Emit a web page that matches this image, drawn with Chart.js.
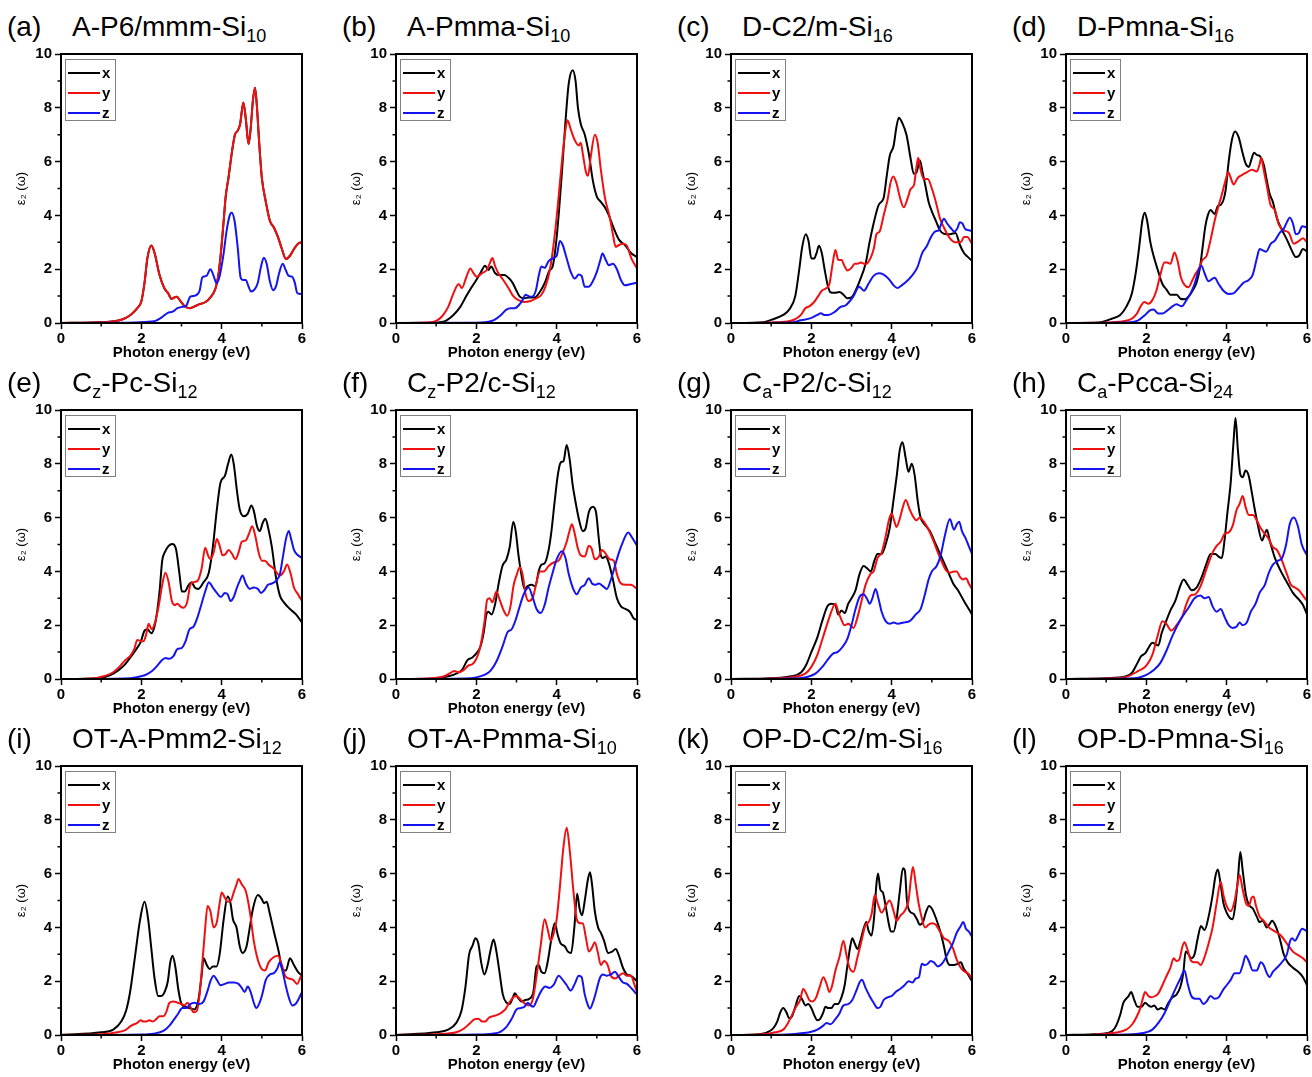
<!DOCTYPE html>
<html>
<head>
<meta charset="utf-8">
<script src="https://cdn.jsdelivr.net/npm/chart.js@4.4.1/dist/chart.umd.min.js"></script>
<style>
  html, body { margin: 0; padding: 0; background: #fff; }
  #fig { position: relative; width: 1312px; height: 1077px; overflow: hidden; background: #fff;
         font-family: "Liberation Sans", Arial, sans-serif; }
  #fig canvas { position: absolute; }
  .tag, .name { position: absolute; font-size: 28px; line-height: 28px; color: #000; white-space: nowrap; }
  .name sub { font-size: 18px; vertical-align: -6px; line-height: 0; }
</style>
</head>
<body>
<div id="fig"></div>
<script>
// Imaginary part of the dielectric function, eps2(omega), for twelve Si structures.
// Each series is a list of [photon energy (eV), eps2] points.

const a_x = null; // x coincides with y for the hexagonal cell
const a_y = [[0,0],[0.8,0.02],[1.2,0.05],[1.5,0.12],[1.73,0.3],[1.9,0.55],[2.0,0.8],[2.08,1.5],[2.15,2.4],[2.25,2.88],[2.33,2.6],[2.45,1.8],[2.57,1.3],[2.67,1.1],[2.75,0.9],[2.88,0.98],[2.98,0.8],[3.08,0.62],[3.2,0.55],[3.3,0.6],[3.45,0.7],[3.6,0.78],[3.72,0.95],[3.85,1.3],[3.92,1.8],[3.98,2.6],[4.05,3.8],[4.1,4.7],[4.17,5.4],[4.25,6.3],[4.33,7.0],[4.4,7.15],[4.46,7.4],[4.54,8.2],[4.6,7.6],[4.67,6.65],[4.72,7.2],[4.78,8.3],[4.83,8.75],[4.88,8.0],[4.93,6.8],[5.0,5.4],[5.1,4.5],[5.2,3.8],[5.3,3.55],[5.4,3.2],[5.5,2.75],[5.6,2.38],[5.7,2.5],[5.8,2.75],[5.9,2.95],[6.0,3.0]];
const a_z = [[0,0],[1.5,0.01],[2.1,0.04],[2.35,0.08],[2.5,0.2],[2.65,0.37],[2.78,0.42],[2.9,0.55],[3.02,0.6],[3.12,0.65],[3.22,0.98],[3.35,1.02],[3.45,1.2],[3.52,1.7],[3.62,1.75],[3.72,2.0],[3.8,1.75],[3.87,1.48],[3.95,1.75],[4.05,2.6],[4.12,3.4],[4.2,4.0],[4.25,4.1],[4.32,3.8],[4.4,2.8],[4.47,1.7],[4.53,1.6],[4.6,1.6],[4.67,1.35],[4.73,1.17],[4.82,1.25],[4.9,1.5],[4.98,2.1],[5.05,2.43],[5.12,2.2],[5.2,1.55],[5.28,1.22],[5.35,1.35],[5.43,1.85],[5.52,2.2],[5.6,1.95],[5.67,1.75],[5.75,1.72],[5.82,1.5],[5.88,1.12],[5.95,1.08],[6.0,1.1]];

const b_x = [[0,0],[0.8,0.01],[1.2,0.06],[1.43,0.3],[1.6,0.6],[1.75,1.0],[1.87,1.3],[2.0,1.6],[2.1,1.85],[2.22,2.13],[2.3,1.97],[2.37,2.1],[2.47,1.85],[2.58,1.78],[2.7,1.78],[2.8,1.68],[2.9,1.5],[3.0,1.2],[3.08,0.98],[3.2,0.92],[3.3,0.95],[3.45,0.95],[3.6,1.2],[3.72,1.55],[3.82,1.95],[3.9,2.1],[3.98,2.9],[4.06,4.2],[4.14,5.8],[4.22,7.5],[4.3,8.9],[4.4,9.4],[4.47,9.0],[4.53,8.0],[4.6,7.4],[4.7,7.0],[4.8,6.3],[4.9,5.3],[5.0,4.7],[5.1,4.5],[5.2,4.3],[5.3,4.0],[5.4,3.6],[5.55,3.1],[5.7,2.9],[5.85,2.6],[6.0,2.45]];
const b_y = [[0,0],[0.8,0.02],[1.0,0.08],[1.15,0.25],[1.3,0.6],[1.43,1.1],[1.56,1.45],[1.64,1.3],[1.75,1.7],[1.85,2.03],[1.93,1.85],[2.01,1.72],[2.14,1.85],[2.26,1.97],[2.33,2.2],[2.4,2.42],[2.47,2.1],[2.55,1.85],[2.67,1.6],[2.8,1.3],[2.92,1.0],[3.05,0.85],[3.2,0.78],[3.35,0.82],[3.5,0.92],[3.62,1.05],[3.72,1.35],[3.83,1.97],[3.93,3.0],[4.0,3.94],[4.08,5.2],[4.15,6.3],[4.22,7.2],[4.27,7.54],[4.35,7.2],[4.45,6.8],[4.55,6.6],[4.6,6.7],[4.66,6.2],[4.73,5.6],[4.78,5.47],[4.85,6.2],[4.95,7.0],[5.02,6.7],[5.1,5.7],[5.2,4.67],[5.32,3.94],[5.4,3.3],[5.47,2.83],[5.55,2.9],[5.65,2.95],[5.74,2.89],[5.86,2.4],[6.0,2.03]];
const b_z = [[0,0],[1.8,0.01],[2.3,0.05],[2.45,0.12],[2.6,0.28],[2.75,0.5],[2.85,0.55],[2.96,0.55],[3.08,0.7],[3.15,0.85],[3.22,1.05],[3.3,1.0],[3.38,0.98],[3.48,1.2],[3.56,1.8],[3.62,2.1],[3.7,2.05],[3.8,2.3],[3.9,2.4],[4.0,2.5],[4.08,3.05],[4.15,2.9],[4.25,2.4],[4.35,1.9],[4.45,1.65],[4.55,1.8],[4.62,1.75],[4.7,1.35],[4.8,1.35],[4.9,1.55],[5.0,1.9],[5.08,2.3],[5.14,2.58],[5.22,2.35],[5.3,2.15],[5.4,2.2],[5.5,2.0],[5.6,1.6],[5.7,1.4],[5.85,1.45],[6.0,1.5]];

const c_x = [[0,0],[0.8,0.03],[1.08,0.16],[1.3,0.3],[1.45,0.5],[1.6,1.0],[1.7,2.0],[1.77,2.8],[1.86,3.3],[1.93,3.05],[2.0,2.4],[2.07,2.4],[2.13,2.6],[2.19,2.87],[2.26,2.6],[2.33,2.0],[2.4,1.45],[2.47,1.15],[2.57,1.12],[2.7,1.15],[2.8,1.05],[2.9,0.92],[3.0,0.95],[3.1,1.2],[3.2,1.55],[3.35,2.2],[3.45,3.0],[3.55,3.7],[3.68,4.4],[3.8,4.65],[3.88,5.5],[3.95,6.2],[4.05,6.6],[4.12,7.3],[4.18,7.63],[4.26,7.45],[4.37,6.99],[4.47,6.13],[4.55,5.55],[4.62,5.6],[4.7,6.05],[4.77,5.6],[4.84,5.1],[4.92,4.5],[5.0,4.15],[5.1,3.8],[5.2,3.45],[5.3,3.32],[5.45,3.3],[5.59,3.35],[5.7,2.9],[5.8,2.6],[5.9,2.45],[6.0,2.31]];
const c_y = [[0,0],[1.0,0.02],[1.4,0.06],[1.57,0.12],[1.74,0.3],[1.85,0.55],[1.95,0.62],[2.07,0.78],[2.17,1.0],[2.26,1.2],[2.38,1.3],[2.45,1.45],[2.53,2.2],[2.6,2.71],[2.67,2.35],[2.75,2.34],[2.83,2.1],[2.9,1.95],[3.0,2.05],[3.08,2.2],[3.15,2.2],[3.23,2.25],[3.35,2.18],[3.47,2.4],[3.56,2.8],[3.62,3.3],[3.7,3.4],[3.8,4.0],[3.9,4.6],[3.97,5.2],[4.04,5.45],[4.12,5.2],[4.2,4.7],[4.3,4.3],[4.4,4.65],[4.47,4.97],[4.56,5.15],[4.6,5.6],[4.66,6.14],[4.72,5.7],[4.8,5.35],[4.9,5.35],[5.0,5.0],[5.1,4.5],[5.2,3.9],[5.3,3.55],[5.45,3.15],[5.6,3.0],[5.72,3.0],[5.8,3.2],[5.88,3.2],[6.0,2.95]];
const c_z = [[0,0],[1.5,0.02],[1.74,0.1],[1.99,0.18],[2.15,0.3],[2.24,0.36],[2.32,0.3],[2.42,0.3],[2.57,0.4],[2.73,0.6],[2.85,0.65],[2.95,0.8],[3.05,1.0],[3.19,1.35],[3.31,1.2],[3.42,1.45],[3.55,1.75],[3.68,1.85],[3.8,1.8],[3.92,1.65],[4.05,1.4],[4.14,1.3],[4.25,1.4],[4.39,1.57],[4.5,1.75],[4.64,2.07],[4.76,2.6],[4.88,2.87],[4.98,3.2],[5.08,3.4],[5.17,3.45],[5.25,3.75],[5.3,3.88],[5.38,3.7],[5.46,3.55],[5.56,3.4],[5.63,3.5],[5.7,3.75],[5.76,3.7],[5.84,3.48],[5.92,3.45],[6.0,3.42]];

const d_x = [[0,0],[0.8,0.02],[1.14,0.16],[1.35,0.3],[1.5,0.6],[1.64,1.1],[1.74,1.9],[1.82,2.8],[1.9,3.8],[1.96,4.1],[2.02,3.8],[2.1,3.0],[2.18,2.5],[2.3,1.9],[2.4,1.45],[2.5,1.25],[2.6,1.05],[2.7,1.05],[2.76,1.05],[2.85,0.9],[2.95,0.88],[3.05,0.98],[3.15,1.2],[3.25,1.5],[3.33,2.0],[3.4,2.8],[3.47,3.6],[3.53,4.0],[3.6,4.2],[3.7,4.05],[3.78,4.35],[3.86,4.4],[3.97,4.9],[4.05,6.0],[4.13,6.8],[4.21,7.12],[4.3,6.9],[4.4,6.3],[4.48,5.9],[4.55,5.8],[4.62,6.1],[4.68,6.33],[4.75,6.25],[4.83,6.2],[4.92,5.9],[5.0,5.3],[5.07,4.8],[5.15,4.5],[5.25,3.9],[5.38,3.45],[5.5,3.1],[5.62,2.7],[5.72,2.45],[5.8,2.5],[5.9,2.75],[6.0,2.65]];
const d_y = [[0,0],[1.0,0.02],[1.55,0.1],[1.76,0.34],[1.87,0.65],[1.95,0.78],[2.05,0.72],[2.15,0.85],[2.25,1.2],[2.35,1.8],[2.45,2.25],[2.52,2.25],[2.6,2.2],[2.7,2.62],[2.78,2.3],[2.86,1.7],[2.95,1.42],[3.05,1.33],[3.15,1.6],[3.22,1.82],[3.3,2.0],[3.4,2.35],[3.5,2.5],[3.6,3.1],[3.72,3.92],[3.88,4.78],[3.97,5.3],[4.04,5.6],[4.1,5.4],[4.17,5.15],[4.28,5.4],[4.38,5.5],[4.5,5.6],[4.63,5.7],[4.75,5.63],[4.82,5.9],[4.86,6.14],[4.92,5.7],[5.0,5.1],[5.09,4.4],[5.2,4.2],[5.3,3.66],[5.42,3.45],[5.55,3.35],[5.67,2.95],[5.8,3.05],[5.9,3.15],[6.0,3.0]];
const d_z = [[0,0],[1.5,0.02],[1.8,0.1],[1.97,0.3],[2.1,0.48],[2.18,0.5],[2.3,0.35],[2.4,0.35],[2.51,0.45],[2.65,0.62],[2.75,0.7],[2.88,0.62],[3.0,0.85],[3.1,1.1],[3.2,1.45],[3.3,1.95],[3.37,2.13],[3.45,1.85],[3.55,1.55],[3.65,1.65],[3.7,1.68],[3.8,1.45],[3.92,1.2],[4.05,1.08],[4.17,1.1],[4.3,1.3],[4.42,1.5],[4.55,1.6],[4.65,1.8],[4.75,2.4],[4.82,2.75],[4.9,2.7],[4.98,2.65],[5.1,2.95],[5.2,3.06],[5.32,3.35],[5.42,3.5],[5.5,3.75],[5.57,3.92],[5.65,3.7],[5.72,3.3],[5.8,3.35],[5.88,3.6],[6.0,3.55]];

const e_x = [[0,0],[0.9,0.03],[1.23,0.15],[1.45,0.35],[1.6,0.55],[1.75,0.85],[1.87,1.1],[1.98,1.36],[2.08,1.8],[2.15,1.85],[2.25,1.7],[2.35,2.1],[2.45,3.2],[2.52,4.4],[2.58,4.7],[2.68,4.95],[2.77,5.02],[2.86,4.85],[2.95,3.9],[3.01,3.25],[3.08,3.25],[3.18,3.5],[3.25,3.6],[3.33,3.4],[3.42,3.35],[3.55,3.6],[3.68,3.95],[3.78,4.9],[3.88,6.3],[3.97,7.3],[4.08,7.55],[4.16,8.0],[4.24,8.35],[4.3,8.0],[4.38,7.0],[4.45,6.3],[4.55,6.05],[4.65,6.15],[4.74,6.45],[4.8,6.25],[4.88,5.68],[4.95,5.5],[5.02,5.8],[5.09,5.96],[5.16,5.6],[5.25,4.9],[5.35,3.8],[5.45,3.1],[5.55,2.85],[5.7,2.6],[5.85,2.4],[6.0,2.1]];
const e_y = [[0,0],[0.8,0.02],[1.06,0.1],[1.3,0.25],[1.45,0.45],[1.6,0.7],[1.72,0.85],[1.82,1.1],[1.9,1.45],[1.97,1.42],[2.05,1.4],[2.12,1.65],[2.18,2.05],[2.26,1.85],[2.33,2.05],[2.43,2.7],[2.52,3.5],[2.6,3.95],[2.68,3.6],[2.76,2.9],[2.83,2.75],[2.9,2.8],[2.97,2.7],[3.05,2.65],[3.14,2.85],[3.22,3.5],[3.3,3.6],[3.4,3.65],[3.5,4.1],[3.59,4.88],[3.66,4.6],[3.72,4.45],[3.8,4.7],[3.88,5.2],[3.95,4.95],[4.02,4.6],[4.1,4.65],[4.17,4.8],[4.26,4.65],[4.34,4.45],[4.42,4.7],[4.5,5.1],[4.6,5.15],[4.68,5.4],[4.76,5.68],[4.84,5.3],[4.92,4.7],[5.0,4.4],[5.08,4.4],[5.17,4.25],[5.3,4.1],[5.45,3.85],[5.55,4.0],[5.63,4.26],[5.72,3.9],[5.8,3.4],[5.9,3.15],[6.0,2.9]];
const e_z = [[0,0],[1.6,0.02],[1.89,0.07],[2.1,0.15],[2.25,0.28],[2.4,0.5],[2.5,0.68],[2.6,0.78],[2.7,0.75],[2.8,0.85],[2.9,1.12],[3.0,1.15],[3.1,1.4],[3.2,1.85],[3.3,1.95],[3.4,2.3],[3.5,2.8],[3.6,3.3],[3.68,3.6],[3.78,3.4],[3.88,3.2],[3.98,3.05],[4.08,3.2],[4.15,3.15],[4.22,2.9],[4.3,3.05],[4.38,3.4],[4.45,3.65],[4.52,3.85],[4.6,3.55],[4.7,3.35],[4.8,3.4],[4.9,3.35],[4.98,3.2],[5.06,3.3],[5.15,3.5],[5.25,3.55],[5.35,3.65],[5.45,3.9],[5.52,4.5],[5.6,5.2],[5.67,5.5],[5.73,5.2],[5.8,4.8],[5.9,4.6],[6.0,4.5]];

const f_x = [[0,0],[0.9,0.02],[1.3,0.1],[1.5,0.2],[1.65,0.35],[1.78,0.7],[1.9,0.8],[2.0,0.95],[2.1,1.2],[2.18,1.7],[2.25,2.4],[2.3,2.5],[2.38,2.4],[2.47,2.8],[2.55,3.5],[2.65,4.2],[2.75,4.45],[2.83,4.9],[2.92,5.85],[2.98,5.5],[3.05,4.6],[3.12,3.9],[3.2,3.35],[3.28,3.45],[3.38,3.5],[3.47,3.45],[3.55,4.0],[3.62,4.25],[3.7,4.3],[3.8,4.8],[3.87,5.5],[3.95,6.6],[4.03,7.6],[4.1,8.05],[4.17,8.1],[4.25,8.7],[4.32,8.2],[4.4,7.2],[4.48,6.5],[4.56,5.9],[4.65,5.5],[4.72,5.6],[4.8,6.2],[4.9,6.4],[4.98,6.2],[5.05,5.2],[5.1,4.6],[5.15,4.5],[5.22,4.55],[5.3,4.3],[5.4,3.7],[5.5,3.0],[5.6,2.7],[5.72,2.6],[5.82,2.5],[5.92,2.25],[6.0,2.2]];
const f_y = [[0,0],[0.8,0.02],[1.2,0.1],[1.38,0.25],[1.45,0.3],[1.55,0.25],[1.7,0.35],[1.8,0.5],[1.9,0.55],[2.0,0.75],[2.1,1.2],[2.2,2.1],[2.27,2.95],[2.33,3.0],[2.4,2.85],[2.5,3.25],[2.58,2.95],[2.68,2.55],[2.77,2.35],[2.85,2.7],[2.93,3.5],[3.0,3.85],[3.08,4.15],[3.15,3.9],[3.22,3.2],[3.3,2.9],[3.4,3.0],[3.5,3.6],[3.58,4.0],[3.68,4.0],[3.8,4.2],[3.95,4.35],[4.05,4.4],[4.15,4.7],[4.25,5.1],[4.32,5.5],[4.38,5.75],[4.45,5.4],[4.52,4.9],[4.6,4.6],[4.7,4.55],[4.8,4.95],[4.87,4.85],[4.95,4.45],[5.05,4.55],[5.12,4.8],[5.2,4.7],[5.32,4.45],[5.42,4.4],[5.5,3.9],[5.6,3.55],[5.72,3.5],[5.85,3.5],[6.0,3.35]];
const f_z = [[0,0],[1.7,0.02],[2.0,0.06],[2.2,0.15],[2.35,0.3],[2.5,0.65],[2.65,1.2],[2.78,1.75],[2.88,1.85],[2.98,2.2],[3.08,2.7],[3.18,3.15],[3.3,3.4],[3.4,3.05],[3.5,2.6],[3.6,2.45],[3.7,2.75],[3.8,3.4],[3.9,3.95],[4.0,4.45],[4.13,4.75],[4.22,4.5],[4.3,3.9],[4.4,3.4],[4.5,3.15],[4.6,3.4],[4.7,3.5],[4.8,3.75],[4.88,3.55],[4.97,3.5],[5.05,3.55],[5.15,3.45],[5.25,3.35],[5.35,3.7],[5.45,4.2],[5.55,4.7],[5.65,5.1],[5.78,5.45],[5.88,5.25],[6.0,4.95]];

const g_x = [[0,0],[1.0,0.03],[1.5,0.1],[1.75,0.25],[1.88,0.55],[2.0,1.0],[2.15,1.55],[2.28,2.2],[2.4,2.7],[2.5,2.8],[2.6,2.75],[2.67,2.4],[2.75,2.55],[2.83,2.45],[2.92,2.8],[3.0,3.0],[3.1,3.3],[3.2,3.9],[3.3,4.2],[3.4,4.1],[3.48,4.0],[3.57,4.4],[3.65,4.65],[3.75,4.65],[3.85,5.0],[3.95,5.6],[4.05,6.7],[4.13,7.6],[4.2,8.5],[4.27,8.8],[4.35,8.2],[4.42,7.7],[4.5,8.0],[4.57,7.6],[4.65,6.6],[4.72,6.0],[4.82,5.75],[4.95,5.5],[5.1,5.0],[5.25,4.5],[5.4,4.0],[5.55,3.5],[5.65,3.3],[5.8,2.9],[5.9,2.65],[6.0,2.4]];
const g_y = [[0,0],[1.0,0.02],[1.6,0.08],[1.85,0.2],[2.0,0.45],[2.15,0.9],[2.3,1.6],[2.45,2.3],[2.55,2.7],[2.6,2.8],[2.67,2.5],[2.75,2.2],[2.82,2.0],[2.92,2.05],[3.05,1.9],[3.15,2.3],[3.25,2.9],[3.35,3.5],[3.47,3.9],[3.55,4.0],[3.65,4.5],[3.75,4.7],[3.85,5.3],[3.93,5.9],[4.0,6.15],[4.06,5.9],[4.12,5.65],[4.2,5.95],[4.28,6.4],[4.35,6.65],[4.45,6.3],[4.55,6.0],[4.62,5.9],[4.7,6.0],[4.8,5.85],[4.92,5.55],[5.05,5.1],[5.15,4.7],[5.25,4.35],[5.35,4.05],[5.45,3.95],[5.55,4.0],[5.62,4.0],[5.7,3.8],[5.78,3.7],[5.85,3.75],[5.92,3.55],[6.0,3.35]];
const g_z = [[0,0],[1.5,0.02],[1.8,0.05],[2.1,0.2],[2.3,0.5],[2.45,0.8],[2.55,0.95],[2.65,1.0],[2.78,1.2],[2.9,1.5],[3.0,2.0],[3.1,2.6],[3.2,3.05],[3.3,3.15],[3.38,3.0],[3.45,2.8],[3.52,3.0],[3.6,3.35],[3.67,3.0],[3.75,2.5],[3.85,2.15],[3.95,2.05],[4.05,2.1],[4.15,2.05],[4.3,2.1],[4.45,2.15],[4.6,2.4],[4.72,2.6],[4.82,3.1],[4.92,3.7],[5.0,4.0],[5.12,4.2],[5.22,4.6],[5.32,5.3],[5.45,5.95],[5.55,5.55],[5.62,5.75],[5.68,5.85],[5.75,5.5],[5.85,5.2],[5.93,4.9],[6.0,4.65]];

const h_x = [[0,0],[1.0,0.03],[1.5,0.1],[1.65,0.25],[1.78,0.6],[1.87,0.85],[1.97,0.95],[2.07,1.2],[2.15,1.35],[2.22,1.3],[2.3,1.25],[2.38,1.7],[2.48,2.1],[2.6,2.55],[2.72,2.9],[2.83,3.4],[2.93,3.7],[3.03,3.5],[3.13,3.3],[3.25,3.4],[3.38,3.8],[3.5,4.3],[3.6,4.65],[3.72,4.65],[3.8,4.55],[3.88,4.5],[3.95,5.2],[4.02,6.2],[4.1,7.3],[4.17,8.8],[4.22,9.7],[4.28,8.5],[4.34,7.6],[4.4,7.5],[4.47,7.75],[4.55,7.55],[4.63,6.9],[4.7,6.3],[4.78,5.7],[4.88,5.15],[4.95,5.4],[5.0,5.55],[5.08,5.1],[5.2,4.5],[5.35,4.0],[5.5,3.6],[5.65,3.2],[5.8,2.95],[5.9,2.75],[6.0,2.4]];
const h_y = [[0,0],[1.0,0.02],[1.5,0.08],[1.8,0.3],[2.0,0.5],[2.15,0.9],[2.28,1.6],[2.4,2.15],[2.5,2.05],[2.62,1.8],[2.75,2.0],[2.9,2.35],[3.0,2.8],[3.1,3.1],[3.22,3.15],[3.35,3.45],[3.5,4.1],[3.65,4.7],[3.75,4.95],[3.85,5.1],[3.95,5.4],[4.05,5.45],[4.15,5.7],[4.25,6.3],[4.32,6.5],[4.4,6.8],[4.47,6.4],[4.55,6.1],[4.65,6.1],[4.75,5.9],[4.85,5.6],[4.95,5.4],[5.05,5.2],[5.15,4.9],[5.25,4.8],[5.35,4.5],[5.5,3.9],[5.6,3.5],[5.7,3.4],[5.8,3.3],[5.9,3.1],[6.0,2.9]];
const h_z = [[0,0],[1.5,0.02],[1.8,0.05],[2.0,0.15],[2.2,0.35],[2.35,0.6],[2.5,1.05],[2.65,1.6],[2.85,2.2],[3.05,2.65],[3.2,3.0],[3.35,3.1],[3.45,3.0],[3.55,3.05],[3.65,2.7],[3.75,2.5],[3.85,2.6],[3.95,2.3],[4.05,2.0],[4.15,1.9],[4.25,1.95],[4.32,2.1],[4.4,2.0],[4.5,2.1],[4.6,2.5],[4.72,2.8],[4.82,3.2],[4.95,3.5],[5.05,3.95],[5.15,4.25],[5.28,4.4],[5.38,4.5],[5.48,5.0],[5.57,5.75],[5.67,6.0],[5.77,5.7],[5.87,5.0],[6.0,4.6]];

const i_x = [[0,0],[1.0,0.1],[1.3,0.2],[1.5,0.5],[1.62,0.9],[1.72,1.6],[1.85,3.0],[1.97,4.3],[2.08,4.95],[2.17,4.3],[2.25,3.2],[2.33,2.1],[2.42,1.45],[2.5,1.45],[2.58,1.6],[2.66,2.0],[2.72,2.7],[2.78,2.95],[2.85,2.5],[2.92,1.7],[3.0,1.15],[3.1,1.05],[3.2,1.0],[3.32,0.95],[3.42,1.3],[3.5,2.2],[3.55,2.85],[3.63,2.6],[3.7,2.45],[3.78,2.55],[3.87,2.55],[3.95,3.0],[4.05,4.3],[4.15,5.15],[4.22,4.9],[4.28,4.3],[4.37,4.0],[4.45,3.3],[4.52,3.05],[4.62,3.3],[4.7,4.0],[4.78,4.7],[4.9,5.2],[5.0,5.05],[5.05,4.9],[5.12,4.95],[5.2,4.5],[5.3,3.85],[5.42,3.1],[5.52,2.4],[5.6,2.4],[5.7,2.85],[5.8,2.6],[5.9,2.35],[6.0,2.2]];
const i_y = [[0,0],[1.0,0.03],[1.4,0.1],[1.6,0.18],[1.75,0.35],[1.9,0.45],[1.98,0.55],[2.05,0.5],[2.12,0.5],[2.2,0.55],[2.28,0.5],[2.38,0.6],[2.45,0.7],[2.55,0.7],[2.62,0.85],[2.7,1.2],[2.8,1.25],[2.9,1.2],[3.0,1.15],[3.07,1.1],[3.15,1.2],[3.22,1.05],[3.3,0.85],[3.38,0.9],[3.45,1.5],[3.52,2.7],[3.58,3.8],[3.65,4.8],[3.72,4.6],[3.8,4.0],[3.88,4.2],[3.95,4.9],[4.0,5.3],[4.08,5.1],[4.15,4.95],[4.23,5.0],[4.3,5.3],[4.37,5.6],[4.42,5.8],[4.5,5.6],[4.6,5.35],[4.7,4.6],[4.8,3.5],[4.9,2.8],[5.0,2.45],[5.08,2.4],[5.17,2.7],[5.3,2.9],[5.4,2.95],[5.5,2.6],[5.58,2.2],[5.68,2.1],[5.78,2.05],[5.88,1.9],[5.95,2.1],[6.0,2.3]];
const i_z = [[0,0],[2.0,0.02],[2.3,0.05],[2.55,0.15],[2.7,0.35],[2.8,0.55],[2.92,0.8],[3.02,1.0],[3.12,1.0],[3.22,1.15],[3.32,1.2],[3.45,1.15],[3.55,1.25],[3.65,1.65],[3.72,2.0],[3.8,2.2],[3.88,2.05],[3.97,1.85],[4.08,1.9],[4.18,1.95],[4.3,1.95],[4.42,1.9],[4.5,1.75],[4.57,1.6],[4.65,1.8],[4.72,1.6],[4.8,1.2],[4.86,1.0],[4.93,1.15],[5.0,1.45],[5.1,2.05],[5.2,2.25],[5.3,2.3],[5.38,2.45],[5.45,2.7],[5.52,2.35],[5.6,1.8],[5.68,1.35],[5.76,1.1],[5.84,1.15],[5.92,1.35],[6.0,1.6]];

const j_x = [[0,0],[1.0,0.1],[1.3,0.2],[1.5,0.45],[1.63,0.9],[1.73,1.8],[1.82,3.0],[1.9,3.3],[1.98,3.6],[2.05,3.4],[2.12,2.7],[2.2,2.25],[2.28,2.6],[2.36,3.2],[2.43,3.55],[2.5,3.1],[2.58,2.3],[2.66,1.5],[2.75,1.2],[2.83,1.15],[2.9,1.35],[2.96,1.55],[3.03,1.4],[3.12,1.25],[3.22,1.3],[3.32,1.35],[3.42,1.6],[3.5,2.55],[3.55,2.6],[3.62,2.35],[3.7,2.3],[3.78,2.75],[3.86,3.5],[3.95,4.15],[4.03,3.7],[4.1,3.4],[4.2,3.3],[4.28,3.1],[4.36,3.05],[4.44,4.0],[4.51,5.25],[4.57,4.7],[4.63,4.45],[4.7,5.0],[4.78,5.8],[4.83,6.05],[4.88,5.6],[4.95,4.6],[5.03,4.0],[5.1,3.8],[5.18,3.5],[5.28,3.05],[5.38,3.1],[5.47,3.2],[5.55,2.95],[5.65,2.5],[5.75,2.25],[5.85,2.2],[6.0,2.0]];
const j_y = [[0,0],[1.0,0.03],[1.5,0.1],[1.7,0.25],[1.85,0.45],[1.95,0.58],[2.05,0.6],[2.15,0.5],[2.22,0.5],[2.32,0.65],[2.42,0.7],[2.52,0.75],[2.62,0.82],[2.72,0.95],[2.82,1.2],[2.92,1.4],[3.0,1.45],[3.08,1.35],[3.18,1.2],[3.3,1.1],[3.4,1.3],[3.5,2.2],[3.6,3.3],[3.7,4.3],[3.78,3.9],[3.85,3.5],[3.93,3.8],[4.0,4.3],[4.08,5.5],[4.17,7.0],[4.25,7.7],[4.33,6.8],[4.42,5.3],[4.5,4.3],[4.58,4.15],[4.65,4.15],[4.73,3.6],[4.8,3.1],[4.88,3.25],[4.95,3.45],[5.02,3.1],[5.1,2.6],[5.18,2.75],[5.27,2.6],[5.35,2.2],[5.45,2.1],[5.55,2.2],[5.65,2.3],[5.75,2.2],[5.85,2.2],[5.93,1.9],[6.0,1.6]];
const j_z = [[0,0],[2.0,0.02],[2.4,0.05],[2.6,0.12],[2.75,0.3],[2.88,0.6],[3.0,0.95],[3.1,1.0],[3.2,1.05],[3.28,1.2],[3.35,1.1],[3.42,1.05],[3.52,1.35],[3.62,1.65],[3.72,1.8],[3.82,1.75],[3.92,1.85],[4.05,2.2],[4.15,2.05],[4.25,1.85],[4.35,1.65],[4.45,1.9],[4.55,2.2],[4.62,2.15],[4.7,1.5],[4.78,1.1],[4.83,0.98],[4.9,1.2],[4.98,1.6],[5.07,2.1],[5.15,2.25],[5.25,2.2],[5.35,2.25],[5.45,2.35],[5.55,2.15],[5.65,1.95],[5.75,1.9],[5.85,1.75],[6.0,1.5]];

const k_x = [[0,0],[0.6,0.02],[0.9,0.1],[1.05,0.25],[1.15,0.5],[1.23,0.85],[1.3,1.0],[1.38,0.85],[1.45,0.62],[1.52,0.7],[1.6,1.05],[1.7,1.45],[1.78,1.3],[1.85,1.1],[1.92,1.15],[2.0,1.0],[2.07,0.75],[2.15,0.55],[2.22,0.6],[2.3,0.85],[2.35,1.05],[2.42,1.0],[2.5,1.0],[2.58,1.15],[2.66,1.15],[2.75,1.4],[2.83,1.85],[2.9,2.6],[2.97,3.3],[3.02,3.6],[3.08,3.4],[3.15,3.2],[3.23,3.55],[3.3,3.95],[3.37,4.2],[3.42,3.9],[3.5,3.7],[3.57,4.5],[3.62,5.6],[3.66,6.0],[3.72,5.4],[3.78,5.3],[3.85,4.8],[3.92,4.2],[3.98,3.85],[4.05,3.85],[4.12,4.3],[4.2,5.3],[4.28,6.2],[4.33,6.1],[4.38,5.0],[4.45,4.6],[4.55,4.5],[4.63,4.3],[4.7,4.1],[4.78,4.2],[4.85,4.55],[4.93,4.8],[5.0,4.7],[5.1,4.35],[5.2,3.9],[5.3,3.3],[5.38,2.75],[5.45,2.6],[5.55,2.6],[5.65,2.65],[5.72,2.7],[5.8,2.45],[5.9,2.25],[6.0,2.0]];
const k_y = [[0,0],[0.8,0.03],[1.1,0.1],[1.3,0.2],[1.42,0.45],[1.52,0.75],[1.62,1.05],[1.72,1.3],[1.8,1.72],[1.87,1.55],[1.95,1.3],[2.03,1.25],[2.12,1.4],[2.2,1.75],[2.3,2.15],[2.38,1.9],[2.45,1.6],[2.52,1.85],[2.6,2.4],[2.7,2.9],[2.8,3.5],[2.87,3.0],[2.95,2.5],[3.05,2.35],[3.15,2.9],[3.25,3.5],[3.35,4.1],[3.43,4.2],[3.5,4.5],[3.58,5.2],[3.65,4.9],[3.75,4.55],[3.85,4.8],[3.95,5.0],[4.05,4.6],[4.12,4.25],[4.22,4.45],[4.32,4.6],[4.42,5.0],[4.48,5.8],[4.53,6.25],[4.6,5.6],[4.67,4.9],[4.75,4.35],[4.83,4.0],[4.92,4.1],[5.0,4.15],[5.1,4.1],[5.2,3.85],[5.3,3.6],[5.42,3.5],[5.52,3.25],[5.62,2.8],[5.72,2.5],[5.82,2.35],[5.9,2.3],[6.0,2.1]];
const k_z = [[0,0],[1.4,0.02],[1.8,0.07],[2.0,0.12],[2.15,0.2],[2.3,0.35],[2.38,0.45],[2.48,0.4],[2.58,0.55],[2.7,0.8],[2.8,1.1],[2.92,1.15],[3.02,1.3],[3.12,1.65],[3.2,1.95],[3.26,2.05],[3.35,1.75],[3.45,1.45],[3.55,1.2],[3.65,1.0],[3.72,1.05],[3.8,1.3],[3.9,1.4],[4.0,1.45],[4.1,1.6],[4.2,1.7],[4.32,1.85],[4.42,2.0],[4.52,1.95],[4.6,2.1],[4.68,2.15],[4.75,2.65],[4.82,2.6],[4.9,2.65],[4.97,2.75],[5.05,2.7],[5.15,2.55],[5.22,2.6],[5.32,2.8],[5.42,3.1],[5.52,3.4],[5.62,3.8],[5.72,4.05],[5.78,4.2],[5.85,3.95],[5.92,3.85],[6.0,3.65]];

const l_x = [[0,0],[0.6,0.02],[0.9,0.05],[1.15,0.15],[1.25,0.35],[1.35,0.75],[1.43,1.2],[1.5,1.35],[1.56,1.45],[1.62,1.6],[1.7,1.3],[1.78,1.05],[1.88,1.05],[1.97,1.2],[2.05,1.1],[2.12,1.05],[2.2,1.1],[2.28,0.95],[2.37,1.0],[2.45,0.95],[2.55,1.2],[2.65,1.4],[2.75,1.5],[2.85,1.8],[2.92,2.3],[2.98,3.1],[3.05,3.0],[3.12,2.85],[3.2,3.0],[3.28,3.6],[3.36,4.05],[3.45,3.9],[3.55,4.4],[3.65,5.2],[3.72,5.9],[3.78,6.15],[3.85,5.6],[3.92,4.9],[4.0,4.55],[4.08,4.35],[4.15,4.3],[4.22,4.9],[4.28,5.8],[4.34,6.8],[4.4,6.1],[4.48,5.2],[4.55,4.85],[4.65,4.7],[4.75,4.4],[4.82,4.2],[4.9,4.25],[5.0,4.0],[5.08,4.15],[5.13,4.25],[5.22,4.05],[5.32,3.6],[5.42,3.0],[5.52,2.7],[5.65,2.5],[5.78,2.35],[5.9,2.15],[6.0,1.85]];
const l_y = [[0,0],[0.8,0.02],[1.2,0.08],[1.5,0.2],[1.65,0.4],[1.75,0.65],[1.85,1.0],[1.92,1.4],[1.97,1.6],[2.05,1.45],[2.12,1.4],[2.22,1.45],[2.3,1.55],[2.4,1.85],[2.52,2.25],[2.6,2.5],[2.68,2.85],[2.75,2.75],[2.82,2.8],[2.9,3.3],[2.95,3.45],[3.02,3.2],[3.1,2.8],[3.18,2.7],[3.28,2.7],[3.35,2.6],[3.45,2.9],[3.55,3.4],[3.65,4.0],[3.75,4.9],[3.85,5.7],[3.92,5.2],[4.0,4.8],[4.1,4.6],[4.2,5.0],[4.27,5.6],[4.32,5.95],[4.4,5.4],[4.48,4.9],[4.55,4.8],[4.62,5.1],[4.67,5.15],[4.73,4.8],[4.82,4.4],[4.92,4.25],[5.05,4.0],[5.2,3.85],[5.35,3.7],[5.5,3.4],[5.65,3.1],[5.8,2.95],[5.9,2.85],[6.0,2.7]];
const l_z = [[0,0],[1.5,0.02],[1.8,0.05],[2.0,0.1],[2.15,0.2],[2.3,0.45],[2.45,0.8],[2.6,1.3],[2.75,1.8],[2.85,2.1],[2.95,2.4],[3.03,1.9],[3.12,1.45],[3.22,1.35],[3.32,1.35],[3.42,1.15],[3.5,1.25],[3.6,1.45],[3.7,1.35],[3.8,1.4],[3.9,1.65],[4.0,1.85],[4.1,2.05],[4.2,2.3],[4.32,2.3],[4.4,2.6],[4.47,2.95],[4.55,2.75],[4.65,2.4],[4.75,2.4],[4.85,2.7],[4.92,2.6],[5.0,2.3],[5.07,2.15],[5.15,2.35],[5.25,2.5],[5.4,2.75],[5.5,3.0],[5.58,3.5],[5.63,3.6],[5.7,3.5],[5.78,3.7],[5.88,3.95],[5.95,3.9],[6.0,3.85]];

// Panel labels and structure names (HTML, with subscripts)
const panelTags = ['(a)','(b)','(c)','(d)','(e)','(f)','(g)','(h)','(i)','(j)','(k)','(l)'];
const panelNames = [
  'A-P6/mmm-Si<sub>10</sub>', 'A-Pmma-Si<sub>10</sub>', 'D-C2/m-Si<sub>16</sub>', 'D-Pmna-Si<sub>16</sub>',
  'C<sub>z</sub>-Pc-Si<sub>12</sub>', 'C<sub>z</sub>-P2/c-Si<sub>12</sub>', 'C<sub>a</sub>-P2/c-Si<sub>12</sub>', 'C<sub>a</sub>-Pcca-Si<sub>24</sub>',
  'OT-A-Pmm2-Si<sub>12</sub>', 'OT-A-Pmma-Si<sub>10</sub>', 'OP-D-C2/m-Si<sub>16</sub>', 'OP-D-Pmna-Si<sub>16</sub>'
];
const seriesLabels = ['x', 'y', 'z'];
const panelSeries = [
  [a_x || a_y, a_y, a_z], [b_x, b_y, b_z], [c_x, c_y, c_z], [d_x, d_y, d_z],
  [e_x, e_y, e_z], [f_x, f_y, f_z], [g_x, g_y, g_z], [h_x, h_y, h_z],
  [i_x, i_y, i_z], [j_x, j_y, j_z], [k_x, k_y, k_z], [l_x, l_y, l_z]
];
const xAxisTitle = 'Photon energy (eV)';
const yAxisTitle = 'ε₂ (ω)';

// ---- layout ----
const SERIES_COLORS = ['#000000', '#f01010', '#1414ee'];
const COL_LEFT = [61, 396, 731, 1066];
const ROW_TOP = [52, 408, 764];
const PLOT_W = 241, PLOT_H = 271;
const AXIS_W = 61, AXIS_H = 45, PAD_TOP = 10, PAD_RIGHT = 6;
const FONT = '"Liberation Sans", Arial, sans-serif';

Chart.defaults.font.family = FONT;
Chart.defaults.color = '#000';

// Full box frame plus short minor ticks half-way between labelled ticks
const frameTicks = {
  id: 'frameTicks',
  afterDraw(chart) {
    const { ctx, chartArea: a } = chart;
    ctx.save();
    ctx.strokeStyle = '#000';
    ctx.lineWidth = 2;
    ctx.strokeRect(a.left, a.top, a.right - a.left, a.bottom - a.top);
    ctx.lineWidth = 1.5;
    ctx.beginPath();
    const xs = chart.scales.x, ys = chart.scales.y;
    for (let i = 0; i + 1 < xs.ticks.length; i++) {
      const px = xs.getPixelForValue((xs.ticks[i].value + xs.ticks[i + 1].value) / 2);
      ctx.moveTo(px, a.bottom); ctx.lineTo(px, a.bottom + 3.5);
    }
    for (let i = 0; i + 1 < ys.ticks.length; i++) {
      const py = ys.getPixelForValue((ys.ticks[i].value + ys.ticks[i + 1].value) / 2);
      ctx.moveTo(a.left, py); ctx.lineTo(a.left - 3.5, py);
    }
    ctx.stroke();
    ctx.restore();
  }
};

// Boxed legend in the upper-left corner of the plot
const insetLegend = {
  id: 'insetLegend',
  afterDraw(chart) {
    const { ctx, chartArea: a } = chart;
    ctx.save();
    ctx.strokeStyle = '#808080';
    ctx.lineWidth = 1;
    ctx.strokeRect(a.left + 4.5, a.top + 5.5, 50, 61);
    ctx.font = 'bold 15px ' + FONT;
    ctx.textBaseline = 'middle';
    ctx.textAlign = 'left';
    chart.data.datasets.forEach((ds, i) => {
      const ly = a.top + 19 + i * 20;
      ctx.strokeStyle = ds.borderColor;
      ctx.lineWidth = 2;
      ctx.beginPath();
      ctx.moveTo(a.left + 7, ly);
      ctx.lineTo(a.left + 39, ly);
      ctx.stroke();
      ctx.fillStyle = '#000';
      ctx.fillText(ds.label, a.left + 41, ly + 1);
    });
    ctx.restore();
  }
};

const fig = document.getElementById('fig');

panelSeries.forEach((series, p) => {
  const col = p % 4, row = Math.floor(p / 4);
  const left = COL_LEFT[col], top = ROW_TOP[row];

  const tag = document.createElement('div');
  tag.className = 'tag';
  tag.textContent = panelTags[p];
  tag.style.left = (left - 54) + 'px';
  tag.style.top = (top - 39) + 'px';
  fig.appendChild(tag);

  const name = document.createElement('div');
  name.className = 'name';
  name.innerHTML = panelNames[p];
  name.style.left = (left + 11) + 'px';
  name.style.top = (top - 39) + 'px';
  fig.appendChild(name);

  const cv = document.createElement('canvas');
  const cw = AXIS_W + PLOT_W + PAD_RIGHT, ch = PAD_TOP + PLOT_H + AXIS_H;
  cv.width = cw; cv.height = ch;
  cv.style.width = cw + 'px'; cv.style.height = ch + 'px';
  cv.style.left = (left - AXIS_W) + 'px';
  cv.style.top = (top - PAD_TOP) + 'px';
  fig.appendChild(cv);

  new Chart(cv, {
    type: 'line',
    data: {
      datasets: series.map((pts, s) => ({
        label: seriesLabels[s],
        data: pts.map(([e, v]) => ({ x: e, y: v })),
        borderColor: SERIES_COLORS[s],
        borderWidth: 2,
        pointRadius: 0,
        fill: false,
        order: 3 - s,              // z drawn last, on top
        cubicInterpolationMode: 'monotone'
      }))
    },
    options: {
      responsive: false,
      animation: false,
      devicePixelRatio: 1,
      layout: { padding: { top: PAD_TOP, right: PAD_RIGHT, left: 0, bottom: 0 } },
      plugins: { legend: { display: false }, tooltip: { enabled: false } },
      scales: {
        x: {
          type: 'linear', min: 0, max: 6,
          ticks: { stepSize: 2, font: { size: 15, weight: 'bold' }, color: '#000', maxRotation: 0, padding: 1 },
          grid: { drawOnChartArea: false, tickLength: 6, tickWidth: 1.5, tickColor: '#000' },
          border: { color: '#000', width: 2 },
          title: { display: true, text: xAxisTitle, font: { size: 15, weight: 'bold' }, color: '#000', padding: { top: 0, bottom: 6 } },
          afterFit(s) { s.height = AXIS_H; }
        },
        y: {
          min: 0, max: 10,
          ticks: { stepSize: 2, font: { size: 15, weight: 'bold' }, color: '#000', padding: 3 },
          grid: { drawOnChartArea: false, tickLength: 6, tickWidth: 1.5, tickColor: '#000' },
          border: { color: '#000', width: 2 },
          title: { display: true, text: yAxisTitle, font: { size: 13 }, color: '#000', padding: { top: 14, bottom: 0 } },
          afterFit(s) { s.width = AXIS_W; }
        }
      }
    },
    plugins: [frameTicks, insetLegend]
  });
});
</script>
</body>
</html>
